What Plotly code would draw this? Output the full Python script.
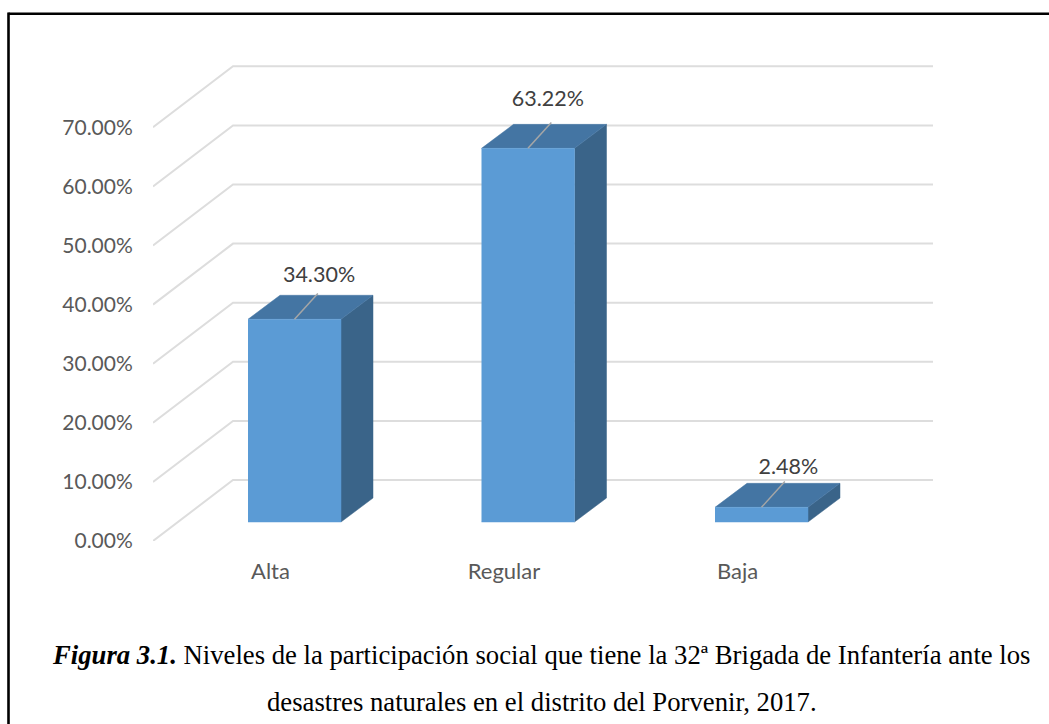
import plotly.graph_objects as go

categories = ["Alta", "Regular", "Baja"]
values = [34.30, 63.22, 2.48]
tick_values = [0, 10, 20, 30, 40, 50, 60, 70]
caption_line1 = (
    "<b><i>Figura 3.1.</i></b> Niveles de la participación social que tiene la "
    "32ª Brigada de Infantería ante los"
)
caption_line2 = "desastres naturales en el distrito del Porvenir, 2017."

# hand placed label nudges, same order as categories (x in category units, y in %)
label_dx = [0.105, 0.085, 0.115]
label_dy = [7.3, 8.1, 6.5]

# page geometry
W, H = 1049, 724
M_L, M_R, M_T, M_B = 153, 109, 50, 183
PLOT_W = W - M_L - M_R
PLOT_H = H - M_T - M_B

# axis scales
X_PX = 233.5  # pixels per category
Y_PX = 5.91  # pixels per percent
x_min = -(294.5 - M_L) / X_PX
x_max = x_min + PLOT_W / X_PX
y_max = PLOT_H / Y_PX

# fake 3d offsets in axis units
BAR_W = 93 / X_PX
DEPTH_X = 32 / X_PX
DEPTH_Y = 24 / Y_PX
FLOOR = 19 / Y_PX
WALL_X = 80 / X_PX
WALL_Y = 61 / Y_PX

FRONT, TOP, SIDE = "#5B9BD5", "#4475A3", "#3A6489"
GRID = "#DDDDDD"


def page_x(px):
    return (px - M_L) / PLOT_W


def page_y(py):
    return (H - M_B - py) / PLOT_H


def face(fig, xs, ys, color):
    fig.add_trace(
        go.Scatter(
            x=xs,
            y=ys,
            mode="lines",
            fill="toself",
            fillcolor=color,
            line=dict(color=color, width=0.5),
            hoverinfo="skip",
        )
    )


fig = go.Figure()

# Back wall grid, runs diagonally from the axis and then along the wall
for v in tick_values:
    fig.add_trace(
        go.Scatter(
            x=[x_min, x_min + WALL_X, x_max - 7 / X_PX],
            y=[v, v + WALL_Y, v + WALL_Y],
            mode="lines",
            line=dict(color=GRID, width=2),
            hoverinfo="skip",
        )
    )

# Bars
for i, val in enumerate(values):
    left = i - BAR_W / 2
    right = i + BAR_W / 2
    top = FLOOR + val
    face(
        fig,
        [right, right + DEPTH_X, right + DEPTH_X, right],
        [FLOOR, FLOOR + DEPTH_Y, top + DEPTH_Y, top],
        SIDE,
    )
    face(
        fig,
        [left, left + DEPTH_X, right + DEPTH_X, right],
        [top, top + DEPTH_Y, top + DEPTH_Y, top],
        TOP,
    )
    face(fig, [left, right, right, left], [FLOOR, FLOOR, top, top], FRONT)
    # Leader line to the label
    fig.add_trace(
        go.Scatter(
            x=[i, i + 0.1],
            y=[top, top + DEPTH_Y + 0.3],
            mode="lines",
            line=dict(color="#A6A6A6", width=1.5),
            hoverinfo="skip",
        )
    )

# Data labels
fig.add_trace(
    go.Scatter(
        x=[i + label_dx[i] for i in range(len(values))],
        y=[FLOOR + v + label_dy[i] for i, v in enumerate(values)],
        mode="text",
        text=[f"{v:.2f}%" for v in values],
        textposition="middle center",
        textfont=dict(family="Lato", size=21.5, color="#404040"),
        hoverinfo="skip",
    )
)

fig.update_layout(
    width=W,
    height=H,
    autosize=False,
    showlegend=False,
    paper_bgcolor="white",
    plot_bgcolor="white",
    margin=dict(l=M_L, r=M_R, t=M_T, b=M_B, pad=0),
    xaxis=dict(
        range=[x_min, x_max],
        tickmode="array",
        tickvals=[i - 24 / X_PX for i in range(len(categories))],
        ticktext=categories,
        tickfont=dict(family="Lato", size=22, color="#595959"),
        ticks="outside",
        ticklen=11,
        tickcolor="rgba(0,0,0,0)",
        showgrid=False,
        zeroline=False,
        showline=False,
    ),
    yaxis=dict(
        range=[0, y_max],
        tickmode="array",
        tickvals=tick_values,
        ticktext=[f"{v:.2f}%" for v in tick_values],
        tickfont=dict(family="Lato", size=21, color="#595959"),
        ticks="outside",
        ticklen=15,
        tickcolor="rgba(0,0,0,0)",
        showgrid=False,
        zeroline=False,
        showline=False,
    ),
    shapes=[
        dict(
            type="line", xref="paper", yref="paper",
            x0=page_x(8.5), x1=page_x(W), y0=page_y(13.8), y1=page_y(13.8),
            line=dict(color="black", width=2.6),
        ),
        dict(
            type="line", xref="paper", yref="paper",
            x0=page_x(8.5), x1=page_x(8.5), y0=page_y(12.5), y1=page_y(H),
            line=dict(color="black", width=2.6),
        ),
    ],
    annotations=[
        dict(
            text=caption_line1,
            xref="paper", yref="paper", x=page_x(541), y=page_y(655),
            xanchor="center", yanchor="middle", showarrow=False,
            font=dict(family="Liberation Serif", size=26.7, color="black"),
        ),
        dict(
            text=caption_line2,
            xref="paper", yref="paper", x=page_x(542), y=page_y(702),
            xanchor="center", yanchor="middle", showarrow=False,
            font=dict(family="Liberation Serif", size=26.7, color="black"),
        ),
    ],
)

# drop the browser's default body margin so the figure fills the window
fig.write_html(
    "out.html",
    config={"displayModeBar": False},
    post_script="document.body.style.margin = '0';",
)
